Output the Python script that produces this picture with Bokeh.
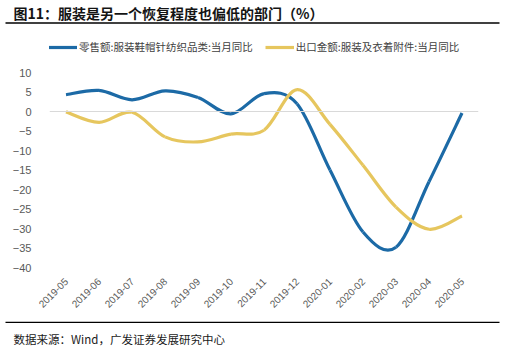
import numpy as np
from bokeh.plotting import figure
from bokeh.layouts import column
from bokeh.models import (ColumnDataSource, Legend, LegendItem, FixedTicker, Span, Range1d, Plot)
from bokeh.core.properties import value
from bokeh.embed import file_html
from bokeh.resources import INLINE

months = ["2019-05", "2019-06", "2019-07", "2019-08", "2019-09", "2019-10", "2019-11",
          "2019-12", "2020-01", "2020-02", "2020-03", "2020-04", "2020-05"]
retail = [4.3, 5.4, 3.0, 5.3, 3.6, -0.6, 4.6, 2.0, -15.0, -30.9, -34.8, -18.0, -0.4]
exports = [-0.1, -2.8, -0.2, -6.5, -7.8, -5.8, -4.8, 5.6, -3.3, -13.8, -24.5, -30.2, -26.8]
y_ticks = [-40, -35, -30, -25, -20, -15, -10, -5, 0, 5, 10]

title_text = "图11：服装是另一个恢复程度也偏低的部门（%）"
source_text = "数据来源：Wind，广发证券发展研究中心"
retail_name = "零售额:服装鞋帽针纺织品类:当月同比"
export_name = "出口金额:服装及衣着附件:当月同比"

BLUE = "#1C6AA6"
YELLOW = "#E6C65E"
FONT = "'Liberation Sans', 'Noto Sans CJK SC', sans-serif"
CJK = "'Noto Sans CJK SC', 'Liberation Sans', sans-serif"

W = 506
HEAD_H = 30          # canvas rows 0..30
FOOT_H = 28          # canvas rows 321..349
MAIN_H = 349 - HEAD_H - FOOT_H
FRAME_BOTTOM = 267   # canvas y of -40
FRAME_TOP = 72       # canvas y of 10
ML, MR = 49, 28
PX_PER_UNIT = (FRAME_BOTTOM - FRAME_TOP) / (y_ticks[-1] - y_ticks[0])
y_top = y_ticks[-1] + (FRAME_TOP - HEAD_H) / PX_PER_UNIT

NOALIGN = {"frame_align": False} if "frame_align" in Plot.properties() else {}


def blank_fig(height):
    f = figure(width=W, height=height, x_range=Range1d(0, W), y_range=Range1d(height, 0),
               output_backend="svg", toolbar_location=None,
               x_axis_type=None, y_axis_type=None, min_border=0, **NOALIGN)
    f.outline_line_color = None
    f.grid.visible = False
    return f


# ---- header: title and rule
head = blank_fig(HEAD_H)
head.text(x=[13], y=[12], text=[title_text], text_font=value("Noto Sans CJK SC"),
          text_font_size="14px", text_font_style="bold", text_color="#141414",
          text_baseline="middle")
head.segment(x0=[5], y0=[22.5], x1=[499], y1=[22.5], line_color="black", line_width=1.5)

# ---- main chart
p = figure(width=W, height=MAIN_H, x_range=(-0.5, len(months) - 0.5),
           y_range=(y_ticks[0], y_top),
           output_backend="svg", toolbar_location=None,
           min_border_left=ML, min_border_right=MR, min_border_top=0,
           min_border_bottom=HEAD_H + MAIN_H - FRAME_BOTTOM, **NOALIGN)
p.outline_line_color = None
p.grid.visible = False


def smooth_source(vals):
    ys = np.asarray(vals, dtype=float)
    xs = np.arange(len(ys), dtype=float)
    n = len(ys)
    d = {k: [] for k in ["x0", "y0", "x1", "y1", "cx0", "cy0", "cx1", "cy1"]}
    for i in range(n - 1):
        a = max(i - 1, 0)
        b = min(i + 2, n - 1)
        d["x0"].append(xs[i]); d["y0"].append(ys[i])
        d["x1"].append(xs[i + 1]); d["y1"].append(ys[i + 1])
        d["cx0"].append(xs[i] + (xs[i + 1] - xs[a]) / 6)
        d["cy0"].append(ys[i] + (ys[i + 1] - ys[a]) / 6)
        d["cx1"].append(xs[i + 1] - (xs[b] - xs[i]) / 6)
        d["cy1"].append(ys[i + 1] - (ys[b] - ys[i]) / 6)
    return ColumnDataSource(d)


p.add_layout(Span(location=0, dimension="width", line_color="#D9D9D9", line_width=1))

r1 = p.bezier(x0="x0", y0="y0", x1="x1", y1="y1", cx0="cx0", cy0="cy0", cx1="cx1", cy1="cy1",
              source=smooth_source(retail), line_color=BLUE, line_width=3.2)
r2 = p.bezier(x0="x0", y0="y0", x1="x1", y1="y1", cx0="cx0", cy0="cy0", cx1="cx1", cy1="cy1",
              source=smooth_source(exports), line_color=YELLOW, line_width=3.2)

p.yaxis.ticker = FixedTicker(ticks=y_ticks)
p.yaxis.axis_line_color = None
p.yaxis.major_tick_line_color = None
p.yaxis.minor_tick_line_color = None
p.yaxis.major_label_standoff = 12
p.yaxis.major_label_text_font = FONT
p.yaxis.major_label_text_font_size = "11px"
p.yaxis.major_label_text_color = "#595959"

p.xaxis.ticker = FixedTicker(ticks=list(range(len(months))))
p.xaxis.major_label_overrides = {i: m for i, m in enumerate(months)}
p.xaxis.major_label_orientation = np.pi / 4
p.xaxis.axis_line_color = None
p.xaxis.major_tick_line_color = None
p.xaxis.minor_tick_line_color = None
p.xaxis.major_label_standoff = 6
p.xaxis.major_label_text_font = FONT
p.xaxis.major_label_text_font_size = "10px"
p.xaxis.major_label_text_color = "#595959"

frame_h = FRAME_BOTTOM - HEAD_H
legend = Legend(items=[LegendItem(label=retail_name, renderers=[r1]),
                       LegendItem(label=export_name, renderers=[r2])],
                orientation="horizontal", location=(-1, frame_h - 24),
                background_fill_alpha=0, border_line_color=None,
                label_text_font=CJK, label_text_font_size="10.5px", label_text_color="#404040",
                glyph_width=29, glyph_height=12, label_standoff=2, spacing=12,
                padding=0, margin=0, label_height=12)
p.add_layout(legend)

# ---- footer: rule and source
foot = blank_fig(FOOT_H)
foot.segment(x0=[5], y0=[0.8], x1=[499], y1=[0.8], line_color="black", line_width=1.5)
foot.text(x=[13], y=[17], text=[source_text], text_font=value("Noto Sans CJK SC"),
          text_font_size="11.5px", text_color="#1A1A1A", text_baseline="middle")

layout = column(head, p, foot, spacing=0)
open("out.html", "w").write(file_html(layout, INLINE))
